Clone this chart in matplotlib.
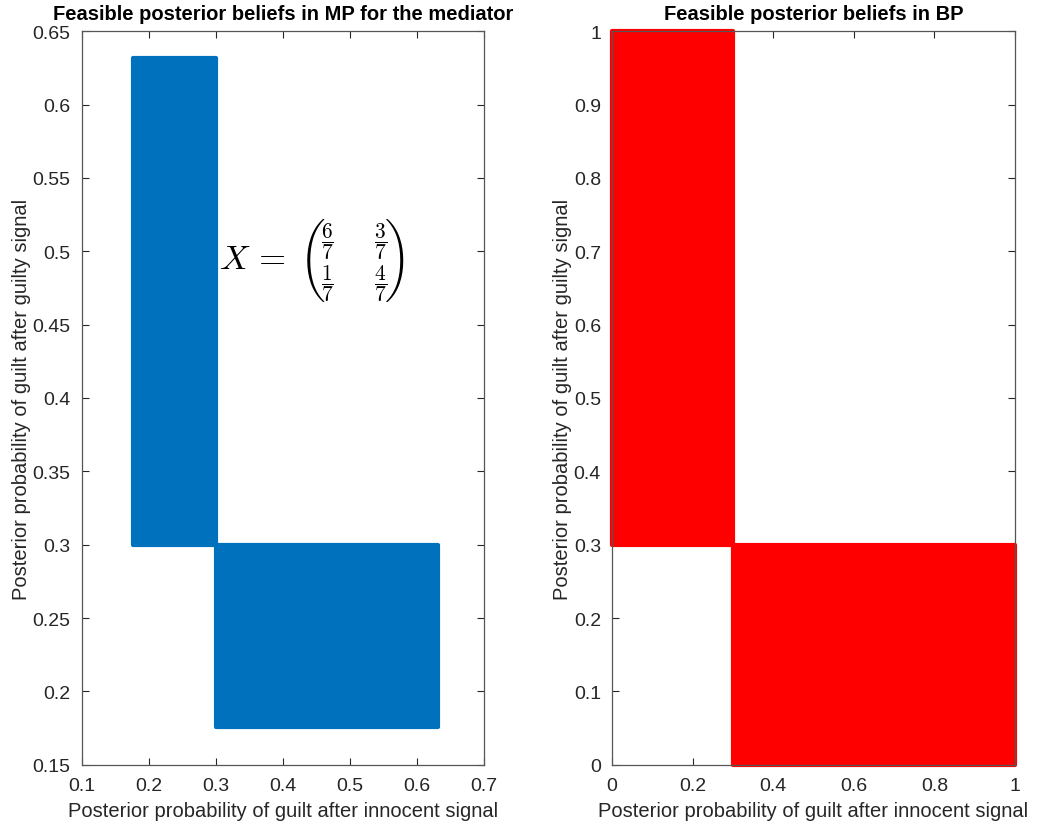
import matplotlib
matplotlib.use("Agg")
import os
import matplotlib.pyplot as plt
from matplotlib.font_manager import FontProperties

plt.rcParams['font.family'] = ['Liberation Sans', 'DejaVu Sans']
plt.rcParams['mathtext.fontset'] = 'cm'

# Feasible regions (rectangles): x range and y range
mp_x_lo = [0.177, 0.300]
mp_x_hi = [0.300, 0.632]
mp_y_lo = [0.300, 0.176]
mp_y_hi = [0.632, 0.300]

bp_x_lo = [0.0, 0.3]
bp_x_hi = [0.3, 1.0]
bp_y_lo = [0.3, 0.0]
bp_y_hi = [1.0, 0.3]

mp_xticks = [0.1, 0.2, 0.3, 0.4, 0.5, 0.6, 0.7]
mp_yticks = [0.15, 0.2, 0.25, 0.3, 0.35, 0.4, 0.45, 0.5, 0.55, 0.6, 0.65]
bp_xticks = [0, 0.2, 0.4, 0.6, 0.8, 1]
bp_yticks = [0, 0.1, 0.2, 0.3, 0.4, 0.5, 0.6, 0.7, 0.8, 0.9, 1]

# Matrix shown in annotation
mat_num = [[6, 3], [1, 4]]
mat_den = 7

fig = plt.figure(figsize=(10.39, 8.29), dpi=100)
W, H = 1039, 829
ax1 = fig.add_axes([81.7 / W, 1 - 765.7 / H, (484 - 81.7) / W, (765.7 - 32.3) / H])
ax2 = fig.add_axes([612 / W, 1 - 765.7 / H, (1015 - 612) / W, (765.7 - 32.3) / H])

axcol = '#262626'


def region(ax, xlo, xhi, ylo, yhi, color):
    for a, b, c, d in zip(xlo, xhi, ylo, yhi):
        ax.bar(a, d - c, width=b - a, bottom=c, align='edge', color=color,
               edgecolor=color, linewidth=3, joinstyle='round', clip_on=False, zorder=2)


region(ax1, mp_x_lo, mp_x_hi, mp_y_lo, mp_y_hi, '#0072BD')
region(ax2, bp_x_lo, bp_x_hi, bp_y_lo, bp_y_hi, '#FF0000')


def style(ax, xt, yt, xl, yl, title):
    ax.set_xlim(xt[0], xt[-1])
    ax.set_ylim(yt[0], yt[-1])
    ax.set_xticks(xt)
    ax.set_yticks(yt)
    ax.set_xticklabels(['%g' % v for v in xt])
    ax.set_yticklabels(['%g' % v for v in yt])
    ax.tick_params(direction='in', length=5, width=0.8, colors=axcol, labelsize=14,
                   top=True, right=True)
    ax.tick_params(axis='x', pad=9)
    ax.tick_params(axis='y', pad=8)
    for s in ax.spines.values():
        s.set_color('#555555')
        s.set_linewidth(0.9)
    ax.set_xlabel(xl, fontsize=14.5, color=axcol, labelpad=5)
    ax.set_ylabel(yl, fontsize=14.5, color=axcol, labelpad=1)
    ax.set_title(title, fontsize=14.5, fontweight='bold', pad=9)


style(ax1, mp_xticks, mp_yticks, 'Posterior probability of guilt after innocent signal',
      'Posterior probability of guilt after guilty signal',
      'Feasible posterior beliefs in MP for the mediator')
style(ax2, bp_xticks, bp_yticks, 'Posterior probability of guilt after innocent signal',
      'Posterior probability of guilt after guilty signal',
      'Feasible posterior beliefs in BP')

# --- matrix annotation, laid out in axes-pixel terms ---
def px2data(px, py):
    return (0.1 + (px - 81.7) / 670.5, 0.65 - (py - 32.3) / 1466.8)

tx, ty = px2data(219, 269.3)
ax1.text(tx, ty, r'$X\,=$', fontsize=25, ha='left', va='baseline', zorder=5)

cols = []
for j in range(2):
    cols.append(r'\genfrac{}{}{0}{0}{\dfrac{%d}{%d}}{\dfrac{%d}{%d}}'
                % (mat_num[0][j], mat_den, mat_num[1][j], mat_den))
mx, my = px2data(354.5, 262.5)
ax1.text(mx, my, '$' + r'\qquad'.join(cols) + '$', fontsize=15.5,
         ha='center', va='center', zorder=5)

cmex = FontProperties(fname=os.path.join(matplotlib.get_data_path(), 'fonts', 'ttf', 'cmex10.ttf'))
lx, ly = px2data(300, 261)
ax1.text(lx, ly, '\xb5', fontproperties=cmex, fontsize=25, ha='left', va='center', zorder=5)
rx, ry = px2data(410, 261)
ax1.text(rx, ry, '\xb6', fontproperties=cmex, fontsize=25, ha='right', va='center', zorder=5)

fig.savefig('out.png', dpi=100)
